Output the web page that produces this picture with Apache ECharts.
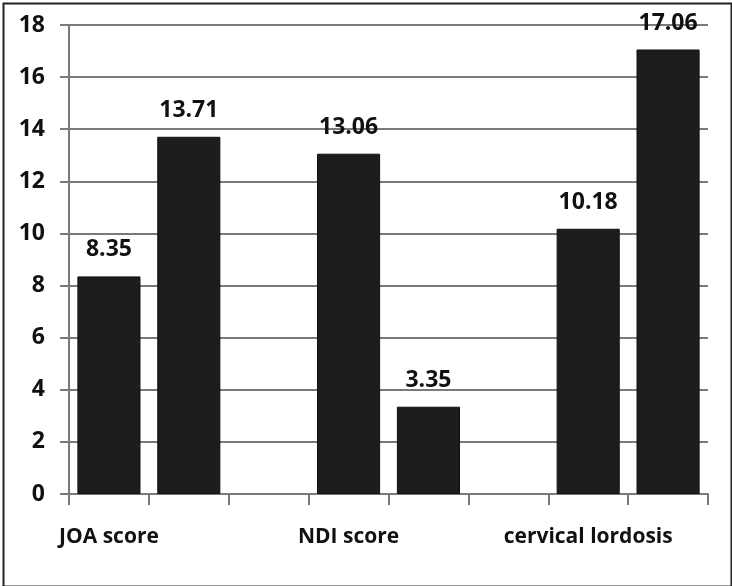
<!DOCTYPE html>
<html><head><meta charset="utf-8">
<style>html,body{margin:0;padding:0;background:#fff}#c{width:732px;height:586px}</style>
<script src="https://cdn.jsdelivr.net/npm/echarts@6/dist/echarts.min.js"></script>
</head><body><div id="c"></div>
<script>
const categories = ["JOA score", "", "", "NDI score", "", "", "cervical lordosis", ""];
const values = [8.35, 13.71, null, 13.06, 3.35, null, 10.18, 17.06];
const yTicks = [0, 2, 4, 6, 8, 10, 12, 14, 16, 18];

const chart = echarts.init(document.getElementById('c'));
chart.setOption({
  animation: false,
  backgroundColor: '#fff',
  graphic: [{
    type: 'rect', left: 1, top: 1,
    shape: { width: 728, height: 583 },
    style: { fill: 'none', stroke: '#222', lineWidth: 2 }
  }],
  grid: { left: 69, right: 24, top: 25, bottom: 92 },
  xAxis: {
    type: 'category', data: categories,
    axisLine: { lineStyle: { color: '#7a7a7a', width: 2 } },
    axisTick: { show: true, length: 11, interval: 0, lineStyle: { color: '#7a7a7a', width: 2 } },
    axisLabel: { interval: 0, margin: 33, fontFamily: 'Open Sans', fontWeight: 'bold', fontSize: 21, color: '#111' }
  },
  yAxis: {
    type: 'value', min: yTicks[0], max: yTicks[yTicks.length - 1], interval: 2,
    axisLine: { show: true, lineStyle: { color: '#7a7a7a', width: 2 } },
    axisTick: { show: true, length: 9, lineStyle: { color: '#7a7a7a', width: 2 } },
    splitLine: { lineStyle: { color: '#7a7a7a', width: 2 } },
    axisLabel: { margin: 24, fontFamily: 'Open Sans', fontWeight: 'bold', fontSize: 23, color: '#111' }
  },
  series: [{
    type: 'bar', data: values, barCategoryGap: '21%',
    itemStyle: { color: '#1d1d1d', borderColor: '#111', borderWidth: 1 },
    label: {
      show: true, position: 'top', distance: 15,
      fontFamily: 'Open Sans', fontWeight: 'bold', fontSize: 23, color: '#111',
      formatter: p => p.value.toFixed(2)
    }
  }]
});
</script></body></html>
